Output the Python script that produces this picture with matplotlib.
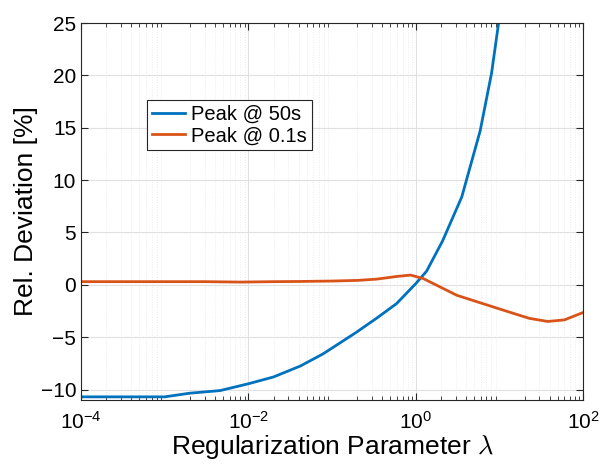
import matplotlib.pyplot as plt
import numpy as np

plt.rcParams['font.family'] = ['Liberation Sans', 'DejaVu Sans']
plt.rcParams['mathtext.fontset'] = 'cm'

# Peak @ 50s
lam_50 = [1e-4, 3e-4, 1e-3, 2e-3, 4.6e-3, 1e-2, 2e-2, 4.2e-2, 7.8e-2, 0.19,
          0.34, 0.59, 1.0, 1.35, 2.1, 3.56, 5.9, 8.07, 10.0]
dev_50 = [-10.7, -10.7, -10.7, -10.35, -10.1, -9.45, -8.8, -7.75, -6.6, -4.6,
          -3.2, -1.8, 0.1, 1.3, 4.2, 8.4, 14.7, 20.2, 25.5]

# Peak @ 0.1s
lam_01 = [1e-4, 1e-3, 3e-3, 8e-3, 2e-2, 4.2e-2, 0.1, 0.2, 0.34, 0.6, 0.87,
          1.23, 3.1, 10.0, 22.7, 38.0, 60.0, 100.0]
dev_01 = [0.3, 0.3, 0.3, 0.26, 0.3, 0.32, 0.36, 0.42, 0.54, 0.8, 0.93,
          0.6, -1.0, -2.3, -3.2, -3.5, -3.35, -2.65]

fig = plt.figure(figsize=(6.02, 4.66), dpi=100)
ax = fig.add_axes([81/602, 1 - 400/466, 502/602, 377/466])

ax.semilogx(lam_50, dev_50, color='#0072BD', lw=2, label='Peak @ 50s')
ax.semilogx(lam_01, dev_01, color='#D95319', lw=2, label='Peak @ 0.1s')

ax.set_xlim(1e-4, 1e2)
ax.set_ylim(-11, 25)
ax.set_xticks([1e-4, 1e-2, 1e0, 1e2])
ax.set_yticks(np.arange(-10, 26, 5))

ax.grid(True, which='major', color='#e0e0e0', lw=0.8)
ax.grid(True, which='minor', color='#e6e6e6', lw=0.6, ls=(0, (1, 2)))
ax.tick_params(which='both', direction='in', top=True, right=True,
               labelsize=15, color='#262626')
ax.tick_params(which='major', length=5)
ax.tick_params(which='minor', length=3)
ax.tick_params(axis='x', pad=8)
for s in ax.spines.values():
    s.set_color('#262626')

ax.set_xlabel(r'Regularization Parameter $\lambda$', fontsize=19, labelpad=0)
ax.set_ylabel('Rel. Deviation [%]', fontsize=19, labelpad=2)

leg = ax.legend(loc='upper left', bbox_to_anchor=(0.131, 0.796), fontsize=14.5,
                fancybox=False, edgecolor='#262626', framealpha=1,
                handlelength=1.65, handletextpad=0.3, borderpad=0.25,
                labelspacing=0.12, borderaxespad=0)
leg.get_frame().set_linewidth(0.8)

fig.savefig('out.png', dpi=100)
